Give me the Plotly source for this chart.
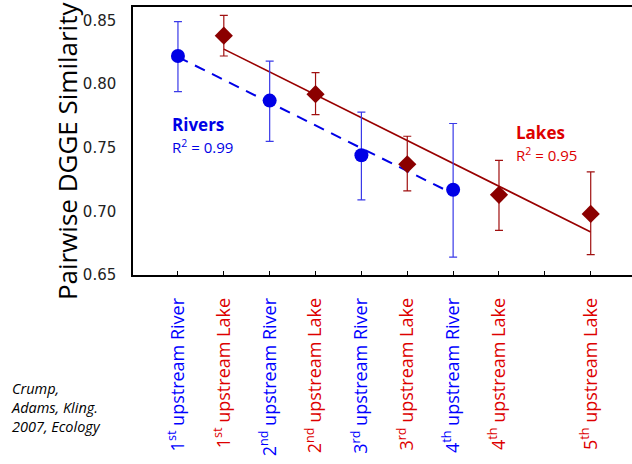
import numpy as np
import plotly.graph_objects as go

# Pairwise DGGE similarity by upstream position (Crump, Adams, Kling 2007)
river_pos = [1, 3, 5, 7]
river_sim = [0.822, 0.787, 0.744, 0.717]
river_err_hi = [0.027, 0.031, 0.034, 0.052]
river_err_lo = [0.028, 0.032, 0.035, 0.053]

lake_pos = [2, 4, 6, 8, 10]
lake_sim = [0.838, 0.792, 0.737, 0.713, 0.698]
lake_err_hi = [0.016, 0.017, 0.022, 0.027, 0.033]
lake_err_lo = [0.016, 0.016, 0.021, 0.028, 0.032]

tick_pos = [1, 2, 3, 4, 5, 6, 7, 8, 9, 10]
tick_names = [
    ("1<sup>st</sup> upstream River", "river"),
    ("1<sup>st</sup> upstream Lake", "lake"),
    ("2<sup>nd</sup> upstream River", "river"),
    ("2<sup>nd</sup> upstream Lake", "lake"),
    ("3<sup>rd</sup> upstream River", "river"),
    ("3<sup>rd</sup> upstream Lake", "lake"),
    ("4<sup>th</sup> upstream River", "river"),
    ("4<sup>th</sup> upstream Lake", "lake"),
    ("", "none"),
    ("5<sup>th</sup> upstream Lake", "lake"),
]
y_ticks = [0.65, 0.70, 0.75, 0.80, 0.85]

RIVER = "#0000e6"
RIVER_LIGHT = "#3a3ae8"
LAKE = "#8b0000"
LAKE_ERR = "#a01010"
LAKE_TEXT = "#dd0000"
FONT = "Comic Sans MS, Open Sans, sans-serif"

tick_colors = {"river": "#0000ff", "lake": LAKE_TEXT, "none": "#000"}
tick_text = [
    f"<span style='color:{tick_colors[k]}'>{t}</span>" if t else ""
    for t, k in tick_names
]

# least-squares trend lines
r_fit = np.polyfit(river_pos, river_sim, 1)
l_fit = np.polyfit(lake_pos, lake_sim, 1)
r_x = np.array([min(river_pos), max(river_pos)])
l_x = np.array([min(lake_pos), max(lake_pos)])

fig = go.Figure()
fig.add_trace(go.Scatter(x=r_x, y=np.polyval(r_fit, r_x), mode="lines",
                         line=dict(color=RIVER, width=2, dash="11px,8px"),
                         hoverinfo="skip"))
fig.add_trace(go.Scatter(x=l_x, y=np.polyval(l_fit, l_x), mode="lines",
                         line=dict(color="#990000", width=1.6),
                         hoverinfo="skip"))
fig.add_trace(go.Scatter(
    x=river_pos, y=river_sim, mode="markers",
    marker=dict(symbol="circle", size=14, color=RIVER),
    error_y=dict(type="data", array=river_err_hi, arrayminus=river_err_lo,
                 color=RIVER_LIGHT, thickness=1.2, width=4)))
fig.add_trace(go.Scatter(
    x=lake_pos, y=lake_sim, mode="markers",
    marker=dict(symbol="diamond", size=14, color=LAKE),
    error_y=dict(type="data", array=lake_err_hi, arrayminus=lake_err_lo,
                 color=LAKE_ERR, thickness=1.2, width=4)))

fig.add_annotation(x=0.83, y=0.768, xref="x", yref="y", text="<b>Rivers</b>",
                   showarrow=False, xanchor="left", yanchor="middle",
                   font=dict(family=FONT, size=17, color=RIVER))
fig.add_annotation(x=0.83, y=0.751, xref="x", yref="y", text="R<sup>2</sup> = 0.99",
                   showarrow=False, xanchor="left", yanchor="middle",
                   font=dict(family=FONT, size=15, color=RIVER))
fig.add_annotation(x=8.32, y=0.762, xref="x", yref="y", text="<b>Lakes</b>",
                   showarrow=False, xanchor="left", yanchor="middle",
                   font=dict(family=FONT, size=17, color=LAKE_TEXT))
fig.add_annotation(x=8.32, y=0.745, xref="x", yref="y", text="R<sup>2</sup> = 0.95",
                   showarrow=False, xanchor="left", yanchor="middle",
                   font=dict(family=FONT, size=15, color=LAKE_TEXT))
fig.add_annotation(x=-0.248, y=-0.38, xref="paper", yref="paper", xanchor="left",
                   yanchor="top", text="<i>Crump,<br>Adams, Kling.<br>2007, Ecology</i>",
                   showarrow=False, align="left",
                   font=dict(family=FONT, size=14.5, color="#000"))
# y-axis title
fig.add_annotation(x=-0.1323, y=0.466, xref="paper", yref="paper",
                   xanchor="center", yanchor="middle", textangle=-90,
                   text="Pairwise DGGE Similarity", showarrow=False,
                   font=dict(family=FONT, size=26, color="#000"))

fig.update_layout(
    width=632, height=464,
    margin=dict(l=133, r=0, t=7, b=189),
    paper_bgcolor="white", plot_bgcolor="white",
    showlegend=False,
    font=dict(family=FONT, color="#000"),
    xaxis=dict(range=[0.02, 10.9], tickvals=tick_pos, ticktext=tick_text,
               tickangle=-90, ticks="inside", ticklen=4, tickcolor="#000",
               showline=True, linecolor="#000", linewidth=1.5, mirror=True,
               showgrid=False, zeroline=False, ticklabelstandoff=14,
               tickfont=dict(family=FONT, size=18)),
    yaxis=dict(range=[0.65, 0.8605], tickvals=y_ticks,
               ticktext=[f"{v:.2f}" for v in y_ticks], ticks="",
               showline=True, linecolor="#000", linewidth=1.5,
               showgrid=False, zeroline=False, ticklabelstandoff=12,
               tickfont=dict(family="DejaVu Sans", size=15, color="#222")),
)

fig.write_html("out.html")
